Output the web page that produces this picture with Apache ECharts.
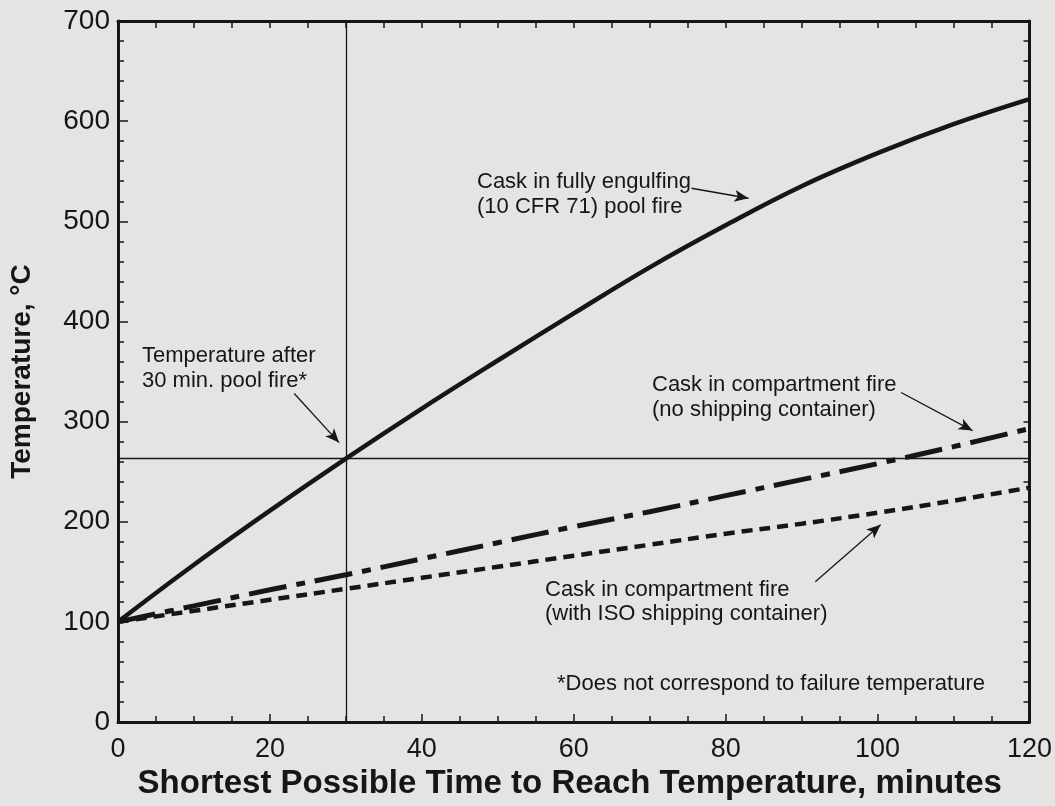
<!DOCTYPE html>
<html>
<head>
<meta charset="utf-8">
<script src="https://cdn.jsdelivr.net/npm/echarts@6/dist/echarts.min.js"></script>
<style>
html,body{margin:0;padding:0;background:#e4e4e2;}
#chart{width:1055px;height:806px;}
</style>
</head>
<body>
<div id="chart"></div>
<script>
// ---- data ----
const minutes = [0, 10, 20, 30, 40, 50, 60, 70, 80, 90, 100, 110, 120];
const poolFire = [100, 157, 211, 263, 313, 361, 408, 454, 496, 535, 568, 597, 622];
const compartmentNoContainer = [100, 116, 132, 147, 163, 179, 195, 210, 226, 242, 258, 275, 293];
const compartmentIsoContainer = [100, 111, 122, 133, 144, 155, 166, 177, 188, 198, 209, 221, 234];
const xTicks = [0, 20, 40, 60, 80, 100, 120];
const yTicks = [0, 100, 200, 300, 400, 500, 600, 700];
const refMinutes = 30;
const refTemperature = 263;
// annotation arrows: [fromMinutes, fromTemp, toMinutes, toTemp]
const arrowEngulfing = [75.5, 533, 83.0, 523];
const arrowAfter30 = [23.2, 328, 29.1, 279];
const arrowNoContainer = [103.1, 329, 112.5, 291];
const arrowIso = [91.8, 140, 100.4, 197];

const pairs = (xs, ys) => xs.map((x, i) => [x, ys[i]]);
const arrow = a => [
  {coord: [a[0], a[1]], symbol: 'none'},
  {coord: [a[2], a[3]], symbol: 'arrow'}
];

const ink = '#161616';
const font = '"Liberation Sans", Arial, Helvetica, sans-serif';

const chart = echarts.init(document.getElementById('chart'));
chart.setOption({
  backgroundColor: '#e4e4e2',
  animation: false,
  grid: {left: 118, top: 21, right: 23, bottom: 84, containLabel: false},
  xAxis: [
    {
      type: 'value', min: xTicks[0], max: xTicks[xTicks.length - 1], interval: 20,
      position: 'bottom',
      name: 'Shortest Possible Time to Reach Temperature, minutes',
      nameLocation: 'middle', nameGap: 44,
      nameTextStyle: {fontFamily: font, fontWeight: 'bold', fontSize: 33, color: ink, padding: [0, 8, 0, 0]},
      axisLine: {show: true, onZero: false, lineStyle: {color: ink, width: 3}},
      axisTick: {show: true, inside: true, length: 8, lineStyle: {color: ink, width: 1.5}},
      minorTick: {show: true, splitNumber: 4, length: 6, lineStyle: {color: ink, width: 1.5}},
      axisLabel: {fontFamily: font, fontSize: 27, color: ink, margin: 14},
      splitLine: {show: false}
    },
    {
      type: 'value', min: xTicks[0], max: xTicks[xTicks.length - 1], interval: 20,
      position: 'top',
      axisLine: {show: true, onZero: false, lineStyle: {color: ink, width: 3}},
      axisTick: {show: true, inside: true, length: 7, lineStyle: {color: ink, width: 1.5}},
      minorTick: {show: true, splitNumber: 4, length: 7, lineStyle: {color: ink, width: 1.5}},
      axisLabel: {show: false},
      splitLine: {show: false}
    }
  ],
  yAxis: [
    {
      type: 'value', min: yTicks[0], max: yTicks[yTicks.length - 1], interval: 100,
      position: 'left',
      name: 'Temperature, °C',
      nameLocation: 'middle', nameGap: 82,
      nameTextStyle: {fontFamily: font, fontWeight: 'bold', fontSize: 28, color: ink},
      axisLine: {show: true, onZero: false, lineStyle: {color: ink, width: 3}},
      axisTick: {show: true, inside: true, length: 10, lineStyle: {color: ink, width: 1.5}},
      minorTick: {show: true, splitNumber: 5, length: 6, lineStyle: {color: ink, width: 1.5}},
      axisLabel: {fontFamily: font, fontSize: 28, color: ink, margin: 8},
      splitLine: {show: false}
    },
    {
      type: 'value', min: yTicks[0], max: yTicks[yTicks.length - 1], interval: 100,
      position: 'right',
      axisLine: {show: true, onZero: false, lineStyle: {color: ink, width: 3}},
      axisTick: {show: true, inside: true, length: 6, lineStyle: {color: ink, width: 1.5}},
      minorTick: {show: true, splitNumber: 5, length: 6, lineStyle: {color: ink, width: 1.5}},
      axisLabel: {show: false},
      splitLine: {show: false}
    }
  ],
  series: [
    {
      name: 'Cask in fully engulfing (10 CFR 71) pool fire',
      type: 'line', xAxisIndex: 0, yAxisIndex: 0,
      data: pairs(minutes, poolFire),
      smooth: 0.4, showSymbol: false, symbol: 'none',
      lineStyle: {color: ink, width: 4.5, type: 'solid'},
      markLine: {
        silent: true, symbol: ['none', 'none'], symbolSize: [9, 14],
        label: {show: false},
        lineStyle: {color: ink, width: 1.3, type: 'solid'},
        data: [
          [{coord: [refMinutes, 0], symbol: 'none'}, {coord: [refMinutes, 700], symbol: 'none'}],
          [{coord: [0, refTemperature], symbol: 'none'}, {coord: [120, refTemperature], symbol: 'none'}],
          arrow(arrowEngulfing),
          arrow(arrowAfter30),
          arrow(arrowNoContainer),
          arrow(arrowIso)
        ]
      },
      z: 3
    },
    {
      name: 'Cask in compartment fire (no shipping container)',
      type: 'line', xAxisIndex: 0, yAxisIndex: 0,
      data: pairs(minutes, compartmentNoContainer),
      smooth: 0.4, showSymbol: false, symbol: 'none',
      lineStyle: {color: ink, width: 5, type: [38, 10, 9, 10], cap: 'butt'},
      z: 3
    },
    {
      name: 'Cask in compartment fire (with ISO shipping container)',
      type: 'line', xAxisIndex: 0, yAxisIndex: 0,
      data: pairs(minutes, compartmentIsoContainer),
      smooth: 0.4, showSymbol: false, symbol: 'none',
      lineStyle: {color: ink, width: 4.5, type: [11, 7], cap: 'butt'},
      z: 3
    }
  ],
  graphic: [
    {type: 'text', left: 477, top: 169, style: {text: 'Cask in fully engulfing\n(10 CFR 71) pool fire', font: '22px ' + font, fill: ink, lineHeight: 25}},
    {type: 'text', left: 142, top: 343, style: {text: 'Temperature after\n30 min. pool fire*', font: '22px ' + font, fill: ink, lineHeight: 25}},
    {type: 'text', left: 652, top: 372, style: {text: 'Cask in compartment fire\n(no shipping container)', font: '22px ' + font, fill: ink, lineHeight: 25, align: 'center', width: 250}},
    {type: 'text', left: 545, top: 578, style: {text: 'Cask in compartment fire\n(with ISO shipping container)', font: '22px ' + font, fill: ink, lineHeight: 24, align: 'center', width: 287}},
    {type: 'text', left: 557, top: 671, style: {text: '*Does not correspond to failure temperature', font: '22px ' + font, fill: ink, lineHeight: 25}}
  ]
});
</script>
</body>
</html>
